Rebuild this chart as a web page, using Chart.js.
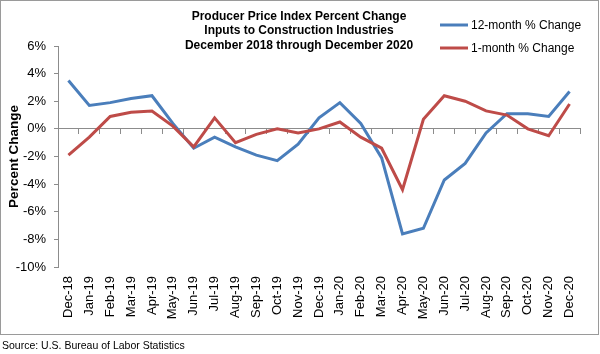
<!DOCTYPE html>
<html>
<head>
<meta charset="utf-8">
<script src="https://cdn.jsdelivr.net/npm/chart.js@4.4.1/dist/chart.umd.min.js"></script>
<style>
  html, body { margin: 0; padding: 0; background: #fff; }
  #wrap { position: relative; width: 600px; height: 354px; overflow: hidden; font-family: 'Liberation Sans', Arial, sans-serif; }
  #chartBox { position: absolute; left: 0; top: 0; width: 600px; height: 334px; }
  #frame { position: absolute; left: 0; top: 0; width: 599px; height: 335px; box-sizing: border-box; border: 1px solid #9a9a9a; pointer-events: none; }
  #source { position: absolute; left: 2px; top: 339px; font-size: 10.5px; color: #000; white-space: nowrap; }
</style>
</head>
<body>
<div id="wrap">
  <div id="chartBox"><canvas id="c"></canvas></div>
  <div id="frame"></div>
  <div id="source">Source: U.S. Bureau of Labor Statistics</div>
</div>
<script>
const titleLines = [
  'Producer Price Index Percent Change',
  'Inputs to Construction Industries',
  'December 2018 through December 2020'
];
const yAxisTitle = 'Percent Change';
const months = ['Dec-18','Jan-19','Feb-19','Mar-19','Apr-19','May-19','Jun-19','Jul-19','Aug-19','Sep-19','Oct-19','Nov-19',
  'Dec-19','Jan-20','Feb-20','Mar-20','Apr-20','May-20','Jun-20','Jul-20','Aug-20','Sep-20','Oct-20','Nov-20','Dec-20'];
const seriesNames = ['12-month % Change', '1-month % Change'];
const twelveMonth = [3.5, 1.7, 1.9, 2.2, 2.4, 0.4, -1.4, -0.6, -1.3, -1.9, -2.3, -1.1,
  0.8, 1.9, 0.4, -2.1, -7.6, -7.2, -3.7, -2.5, -0.3, 1.1, 1.1, 0.9, 2.7];
const oneMonth = [-1.9, -0.6, 0.9, 1.2, 1.3, 0.2, -1.3, 0.8, -1.0, -0.4, 0.0, -0.3,
  0.0, 0.5, -0.6, -1.4, -4.4, 0.7, 2.4, 2.0, 1.3, 1.0, 0.0, -0.5, 1.8];
const yMin = -10, yMax = 6, yStep = 2;

const FONT = "'Liberation Sans', Arial, sans-serif";
const BLUE = '#4A7EBB', RED = '#BE4B48', AXIS = '#8c8c8c';

const overlayPlugin = {
  id: 'overlay',
  afterDraw(chart) {
    const ctx = chart.ctx;
    ctx.save();
    ctx.fillStyle = '#000';
    ctx.textAlign = 'center';
    ctx.textBaseline = 'middle';
    ctx.font = 'bold 12px ' + FONT;
    titleLines.forEach((t, i) => ctx.fillText(t, 299, 16.8 + i * 14.2));
    // legend
    ctx.font = '12px ' + FONT;
    ctx.textAlign = 'left';
    chart.data.datasets.forEach((ds, i) => {
      const y = 25 + i * 23;
      ctx.strokeStyle = ds.borderColor;
      ctx.lineWidth = 3;
      ctx.beginPath();
      ctx.moveTo(440, y);
      ctx.lineTo(468, y);
      ctx.stroke();
      ctx.fillStyle = '#000';
      ctx.fillText(ds.label, 471, y + 0.5);
    });
    ctx.restore();
  }
};

new Chart(document.getElementById('c'), {
  type: 'line',
  data: {
    labels: months,
    datasets: [
      { label: seriesNames[0], data: twelveMonth, borderColor: BLUE, backgroundColor: BLUE, borderWidth: 3, pointRadius: 0, tension: 0, order: 1 },
      { label: seriesNames[1], data: oneMonth, borderColor: RED, backgroundColor: RED, borderWidth: 3, pointRadius: 0, tension: 0, order: 0 }
    ]
  },
  options: {
    responsive: true,
    maintainAspectRatio: false,
    animation: false,
    devicePixelRatio: 1,
    layout: { padding: { left: 0, top: 46, right: 20, bottom: 0 } },
    plugins: { legend: { display: false }, title: { display: false }, tooltip: { enabled: false } },
    scales: {
      x: {
        type: 'category',
        position: 'bottom',
        offset: true,
        grid: { display: false, drawTicks: false },
        border: { display: false },
        ticks: { minRotation: 90, maxRotation: 90, padding: 9, color: '#000', font: { family: FONT, size: 13 }, autoSkip: false },
        afterFit(s) { s.height = 67; }
      },
      x2: {
        type: 'category',
        labels: months,
        position: { y: 0 },
        offset: true,
        grid: { offset: true, drawOnChartArea: false, drawTicks: true, tickLength: 5, color: AXIS, lineWidth: 1 },
        border: { display: true, color: AXIS, width: 1 },
        ticks: { display: false, autoSkip: false }
      },
      y: {
        min: yMin, max: yMax,
        grid: { drawOnChartArea: false, drawTicks: true, tickLength: 4, color: AXIS },
        border: { display: true, color: AXIS, width: 1 },
        ticks: { stepSize: yStep, padding: 8, color: '#000', font: { family: FONT, size: 13 }, callback: v => v + '%' },
        title: { display: true, text: yAxisTitle, color: '#000', font: { family: FONT, size: 13.5, weight: 'bold' }, padding: { top: 6, bottom: 0 } },
        afterFit(s) { s.width = 58; }
      }
    }
  },
  plugins: [overlayPlugin]
});
</script>
</body>
</html>
